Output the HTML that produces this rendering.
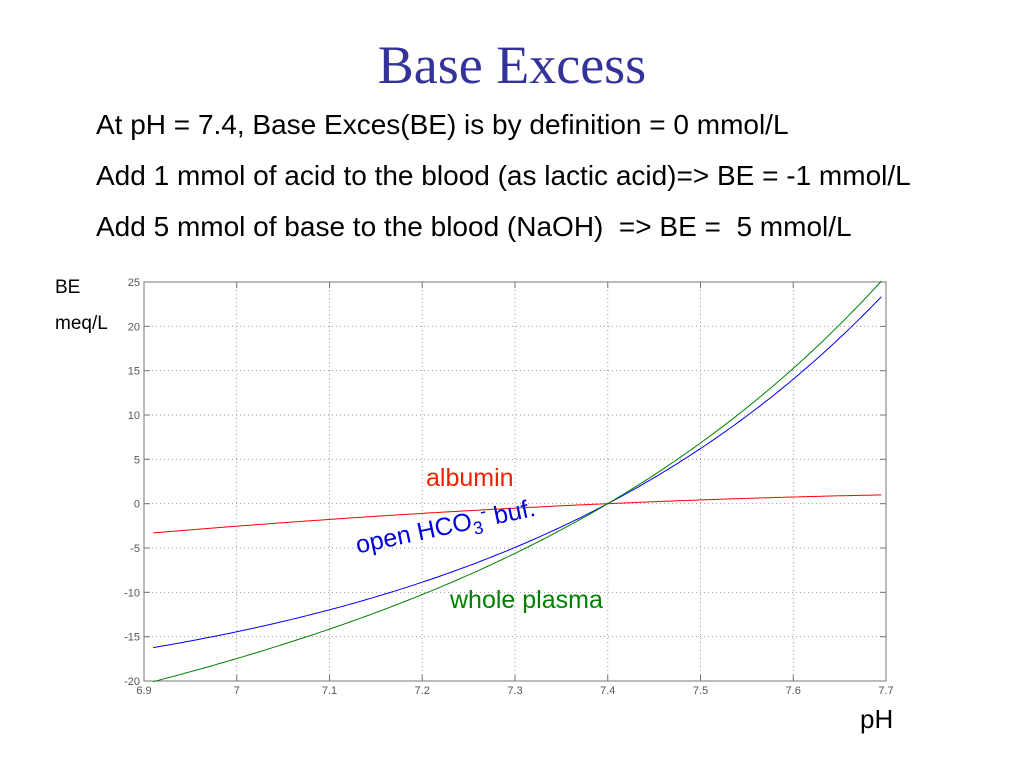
<!DOCTYPE html>
<html><head><meta charset="utf-8"><style>
body{margin:0;background:#fff;width:1024px;height:768px;overflow:hidden;position:relative;font-family:"Liberation Sans",sans-serif}
.t{position:absolute;white-space:nowrap;line-height:1.15}
</style></head><body>
<div class="t" style="left:0;width:1024px;text-align:center;top:34px;font-family:'Liberation Serif',serif;font-size:54px;color:#333399">Base Excess</div>
<div class="t" style="left:96px;top:109px;font-size:28px;color:#000">At pH = 7.4, Base Exces(BE) is by definition = 0 mmol/L</div>
<div class="t" style="left:96px;top:160px;font-size:28px;color:#000">Add 1 mmol of acid to the blood (as lactic acid)=&gt; BE = -1 mmol/L</div>
<div class="t" style="left:96px;top:211px;font-size:28px;color:#000">Add 5 mmol of base to the blood (NaOH)&nbsp; =&gt; BE =&nbsp; 5 mmol/L</div>
<div class="t" style="left:55px;top:277px;font-size:19px">BE</div>
<div class="t" style="left:55px;top:313px;font-size:19px">meq/L</div>
<div class="t" style="left:860px;top:705px;font-size:26px">pH</div>
<svg id="s" width="1024" height="768" style="position:absolute;left:0;top:0" font-family="Liberation Sans, sans-serif"></svg>
<div class="t" style="left:426px;top:464px;font-size:25px;color:#ee2200">albumin</div>
<div class="t" style="left:450px;top:586px;font-size:25px;color:#008000">whole plasma</div>
<div class="t" style="left:360px;top:528px;font-size:25px;color:#0000dd;transform:rotate(-12deg);transform-origin:0 100%">open HCO<sub style="font-size:18px">3</sub><sup style="font-size:18px">-</sup> buf.</div>
<script>
var s=document.getElementById('s'),L=144,R=886,T=282,B=681;
function X(p){return L+(p-6.9)/0.8*(R-L)}
function Y(v){return T+(25-v)/45*(B-T)}
var h='<rect x="'+L+'" y="'+T+'" width="'+(R-L)+'" height="'+(B-T)+'" fill="#fff" stroke="#777" stroke-width="1"/>';
for(var i=0;i<=8;i++){var x=X(6.9+i*0.1);var lab=(Math.round((6.9+i*0.1)*10)/10).toString();
 if(i>0&&i<8)h+='<line x1="'+x+'" y1="'+T+'" x2="'+x+'" y2="'+B+'" stroke="#999" stroke-dasharray="1,3"/>';
 h+='<line x1="'+x+'" y1="'+B+'" x2="'+x+'" y2="'+(B-6)+'" stroke="#777"/><line x1="'+x+'" y1="'+T+'" x2="'+x+'" y2="'+(T+6)+'" stroke="#777"/>';
 h+='<text x="'+x+'" y="'+(B+13)+'" font-size="11" fill="#555" text-anchor="middle">'+lab+'</text>';}
for(var v=-20;v<=25;v+=5){var y=Y(v);
 if(v>-20&&v<25)h+='<line x1="'+L+'" y1="'+y+'" x2="'+R+'" y2="'+y+'" stroke="#999" stroke-dasharray="1,3"/>';
 h+='<line x1="'+L+'" y1="'+y+'" x2="'+(L+6)+'" y2="'+y+'" stroke="#777"/><line x1="'+R+'" y1="'+y+'" x2="'+(R-6)+'" y2="'+y+'" stroke="#777"/>';
 h+='<text x="'+(L-4)+'" y="'+(y+4)+'" font-size="11" fill="#555" text-anchor="end">'+v+'</text>';}
function red(p){var t=p-7.4;return 4.626*t-4.31*t*t}
function blue(p){return 24*(Math.pow(10,p-7.4)-1)}
function green(p){return 24.8*(Math.pow(10,p-7.4)-1)+red(p)}
function path(f,c){var d='';for(var p=6.91;p<=7.6951;p+=0.005){d+=(d?'L':'M')+X(p).toFixed(1)+','+Y(f(p)).toFixed(1)}return '<path d="'+d+'" fill="none" stroke="'+c+'" stroke-width="1"/>'}
h+=path(red,'#ff0000')+path(blue,'#0000ff')+path(green,'#008000');
s.innerHTML=h;
</script>
</body></html>
